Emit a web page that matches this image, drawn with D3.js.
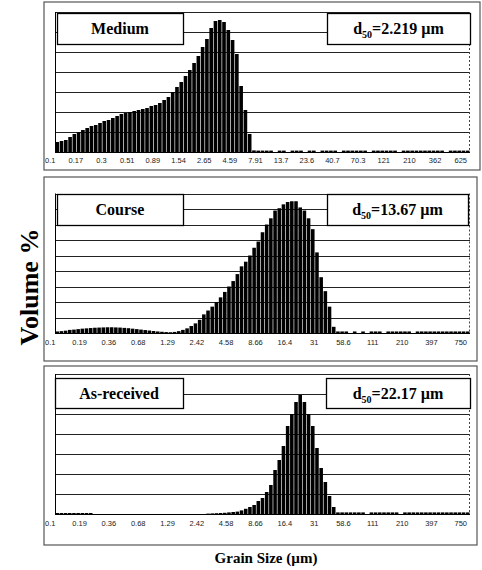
<!DOCTYPE html>
<html><head><meta charset="utf-8">
<script src="https://cdn.jsdelivr.net/npm/d3@7"></script>
<style>body{margin:0;background:#fff}svg{display:block}</style>
</head><body><svg id="c" width="482" height="570"></svg>
<script>
// ---------- data ----------
const panelNames = ["Medium", "Course", "As-received"];
const d50Values = ["2.219", "13.67", "22.17"];

const mediumLabels = ["0.1","0.17","0.3","0.51","0.89","1.54","2.65","4.59","7.91","13.7","23.6","40.7","70.3","121","210","362","625"];
const courseLabels = ["0.1","0.19","0.36","0.68","1.29","2.42","4.58","8.66","16.4","31","58.6","111","210","397","750"];
const receivedLabels = ["0.1","0.19","0.36","0.68","1.29","2.42","4.58","8.66","16.4","31","58.6","111","210","397","750"];

const mediumValues = [
  0.5,0.55,0.6,0.75,0.9,1.0,1.1,1.2,1.3,1.35,
  1.45,1.55,1.6,1.7,1.8,1.9,1.95,2.0,2.05,2.1,
  2.15,2.2,2.3,2.35,2.45,2.6,2.75,3.0,3.25,3.5,
  3.8,4.1,4.45,4.8,5.25,5.65,6.2,6.55,6.6,6.5,
  6.1,5.6,4.9,3.3,2.1,0.9,0.08,0.07,0.07,0.07,
  0.07,0,0.07,0.07,0,0.07,0.07,0.07,0,0.07,
  0.07,0,0.07,0.07,0.07,0.07,0,0.07,0.07,0.07,
  0.07,0.07,0.07,0,0.07,0.07,0.07,0.07,0.07,0.07,
  0,0.07,0.07,0.07,0.07,0.07,0.07,0.07,0.07,0.07,
  0.07,0,0.07,0.07,0.07,0.07,0.07
];
const courseValues = [
  0.1,0.12,0.15,0.2,0.22,0.25,0.28,0.3,0.32,0.34,
  0.35,0.36,0.37,0.37,0.36,0.35,0.33,0.31,0.28,0.25,
  0.22,0.19,0.16,0.13,0.1,0.08,0.06,0.05,0.07,0.12,
  0.2,0.3,0.45,0.62,0.85,1.2,1.45,1.7,2.0,2.3,
  2.65,3.0,3.35,3.8,4.3,4.6,5.0,5.5,5.9,6.5,
  7.0,7.4,7.9,8.05,8.3,8.45,8.5,8.5,8.1,7.9,
  7.4,6.7,5.2,3.6,2.7,1.7,0.4,0.1,0.1,0.1,
  0,0.1,0,0.1,0,0.1,0.1,0.1,0,0.1,
  0.1,0.1,0.1,0.1,0.1,0,0.1,0.1,0.1,0.1,
  0.1,0.1,0.1,0.1,0.1,0.1,0.1,0.1,0.1
];
const receivedValues = [
  0.05,0.05,0.05,0.05,0.05,0.05,0.05,0.05,0.05,0,
  0,0,0,0,0,0,0,0,0,0,
  0,0,0,0,0,0,0,0,0,0,
  0,0,0,0,0,0,0.02,0.03,0.04,0.05,
  0.06,0.08,0.1,0.12,0.18,0.26,0.35,0.45,0.65,0.8,
  1.1,1.45,2.2,2.7,3.4,4.4,5.0,5.6,5.95,5.6,
  5.0,4.4,3.3,2.3,1.6,0.9,0.35,0.08,0.08,0.08,
  0.08,0.08,0.08,0.08,0,0.08,0.08,0.08,0.08,0.08,
  0.08,0.08,0,0.08,0.08,0.08,0.08,0.08,0.08,0.08,
  0.08,0.08,0.08,0.08,0.08,0.08,0.08,0.08,0.08
];

// ---------- layout ----------
const layout = [
  {frame:[44,2,436,168], x0:55, x1:470, top:12, base:152, ymax:7, step:6, labelY:163,
   box:[57,13,126,31], dbox:[327,13,143,31]},
  {frame:[44,177,433,184], x0:55, x1:470, top:193.5, base:333, ymax:9, step:7, labelY:345,
   box:[57,194,126,31], dbox:[327,194,141,31]},
  {frame:[44,366,433,179], x0:55, x1:470, top:374, base:514, ymax:7, step:7, labelY:526,
   box:[55,378,128,30], dbox:[326,378,144,30]}
];
const allValues = [mediumValues, courseValues, receivedValues];
const allLabels = [mediumLabels, courseLabels, receivedLabels];

const svg = d3.select("#c");
const serif = "'Liberation Serif','Times New Roman',serif";

layout.forEach((L, p) => {
  const vals = allValues[p], labs = allLabels[p];
  const g = svg.append("g");
  g.append("rect").attr("x",L.frame[0]).attr("y",L.frame[1]).attr("width",L.frame[2]).attr("height",L.frame[3])
    .attr("fill","none").attr("stroke","#555").attr("stroke-width",1.2);

  const x = d3.scaleBand().domain(d3.range(vals.length)).range([L.x0, L.x1]).paddingInner(0.15).paddingOuter(0.1);
  const y = d3.scaleLinear().domain([0, L.ymax]).range([L.base, L.top]);

  g.selectAll("line.grid").data(y.ticks(L.ymax).filter(v => v > 0)).join("line")
    .attr("x1",L.x0).attr("x2",L.x1).attr("y1",d=>Math.round(y(d))+0.5).attr("y2",d=>Math.round(y(d))+0.5)
    .attr("stroke","#222").attr("stroke-width",1);

  g.selectAll("rect.bar").data(vals).join("rect")
    .attr("x",(d,i)=>x(i)).attr("width",x.bandwidth())
    .attr("y",d=>y(d)).attr("height",d=>L.base - y(d))
    .attr("fill","#000");

  g.append("line").attr("x1",L.x0+0.5).attr("x2",L.x0+0.5).attr("y1",L.top).attr("y2",L.base).attr("stroke","#000");
  g.append("line").attr("x1",L.x0).attr("x2",L.x1).attr("y1",L.base+0.5).attr("y2",L.base+0.5).attr("stroke","#000");
  g.append("line").attr("x1",L.x1-0.5).attr("x2",L.x1-0.5).attr("y1",L.top).attr("y2",L.base)
    .attr("stroke","#444").attr("stroke-dasharray","2,2");

  g.selectAll("text.tick").data(labs).join("text")
    .attr("x",(d,i)=>x(i*L.step) + x.bandwidth()/2 - 7)
    .attr("y",L.labelY)
    .attr("text-anchor","middle")
    .attr("font-family","'Liberation Sans',Arial,sans-serif")
    .attr("font-size","7.5px").attr("fill","#222")
    .text(d=>d);

  g.append("rect").attr("x",L.box[0]+0.5).attr("y",L.box[1]+0.5).attr("width",L.box[2]).attr("height",L.box[3])
    .attr("fill","#fff").attr("stroke","#000").attr("stroke-width",1.3);
  g.append("text").attr("x",L.box[0]+L.box[2]/2).attr("y",L.box[1]+L.box[3]/2+5.5)
    .attr("text-anchor","middle").attr("font-family",serif).attr("font-weight","bold").attr("font-size","16px")
    .text(panelNames[p]);

  g.append("rect").attr("x",L.dbox[0]+0.5).attr("y",L.dbox[1]+0.5).attr("width",L.dbox[2]).attr("height",L.dbox[3])
    .attr("fill","#fff").attr("stroke","#000").attr("stroke-width",1.3);
  const t = g.append("text").attr("x",L.dbox[0]+L.dbox[2]/2).attr("y",L.dbox[1]+L.dbox[3]/2+5.5)
    .attr("text-anchor","middle").attr("font-family",serif).attr("font-weight","bold").attr("font-size","16px");
  t.append("tspan").text("d");
  t.append("tspan").attr("font-size","10px").attr("dy",4).text("50");
  t.append("tspan").attr("dy",-4).text("=" + d50Values[p] + " \u00b5m");
});

svg.append("text").attr("transform","translate(38,287) rotate(-90)")
  .attr("text-anchor","middle").attr("font-family",serif).attr("font-weight","bold").attr("font-size","26px")
  .text("Volume %");
svg.append("text").attr("x",266).attr("y",563)
  .attr("text-anchor","middle").attr("font-family",serif).attr("font-weight","bold").attr("font-size","15px")
  .text("Grain Size (\u00b5m)");
</script></body></html>
